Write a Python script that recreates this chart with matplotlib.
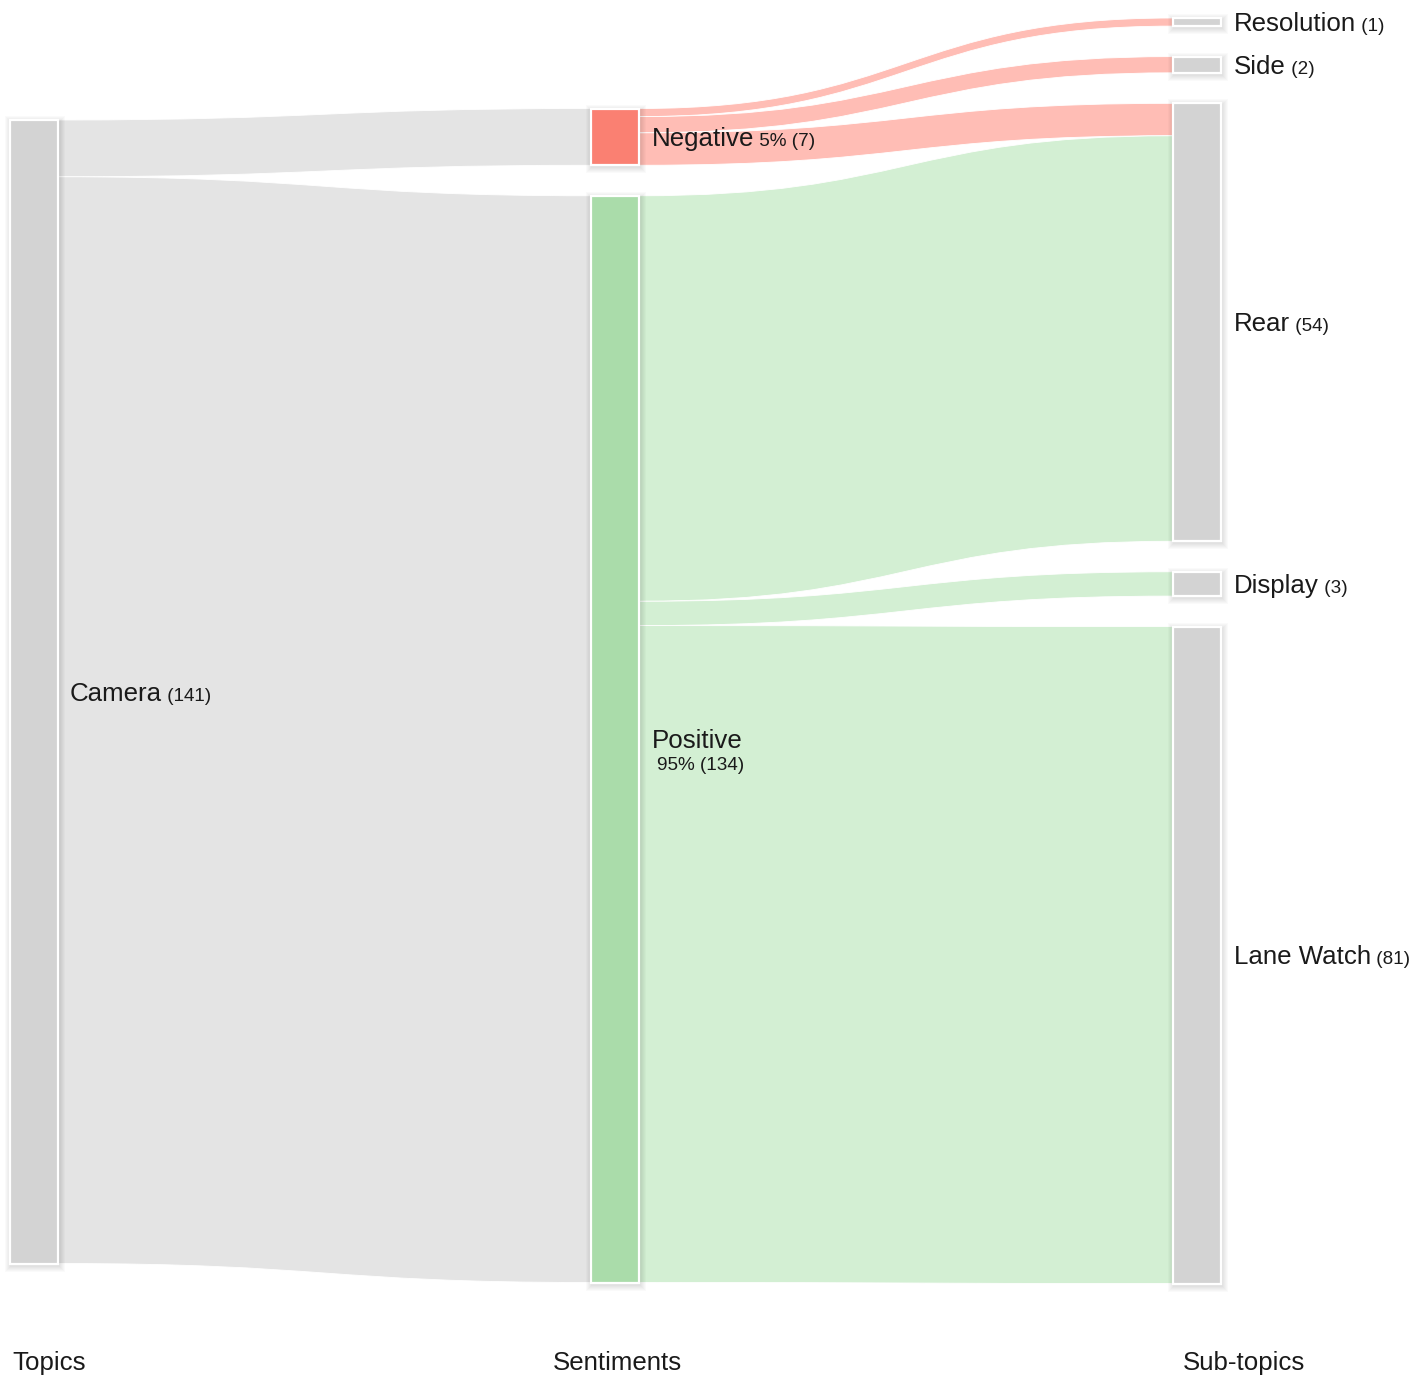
import matplotlib
matplotlib.use("Agg")
import matplotlib.pyplot as plt
from matplotlib.path import Path
from matplotlib.patches import PathPatch, Rectangle

# ---- data -------------------------------------------------------------
topics = ["Camera"]
sentiments = ["Negative", "Positive"]
subtopics = ["Resolution", "Side", "Rear", "Display", "Lane Watch"]
# mentions per sub-topic, split by sentiment (same order as subtopics)
negative_counts = [1, 2, 4, 0, 0]
positive_counts = [0, 0, 50, 3, 81]
column_titles = ["Topics", "Sentiments", "Sub-topics"]

# ---- layout / style ---------------------------------------------------
W, H = 1418, 1377
SCALE = 8.11          # px per mention
PAD = 30.5            # vertical gap between nodes in a column
NODE_W = 48
COL_X = [10, 591, 1173]
COL_TOP = [120, 108.5, 18]

GREY_NODE = "#d3d3d3"
GREY_LINK = "#e4e4e4"
NEG_NODE = "#fa8072"
NEG_LINK = "#ffbdb5"
POS_NODE = "#aadcaa"
POS_LINK = "#d3efd3"
TEXT = "#1a1a1a"
FONT = "Liberation Sans"
BIG = 18.6
SMALL = 13.6

neg_total = sum(negative_counts)
pos_total = sum(positive_counts)
sent_totals = [neg_total, pos_total]
topic_total = neg_total + pos_total
sub_totals = [n + p for n, p in zip(negative_counts, positive_counts)]

fig = plt.figure(figsize=(W / 100, H / 100), dpi=100)
ax = fig.add_axes([0, 0, 1, 1])
ax.set_xlim(0, W)
ax.set_ylim(H, 0)
ax.axis("off")


def stack(values, top):
    """Return (y0, y1) spans for nodes stacked in one column."""
    spans, y = [], top
    for v in values:
        h = v * SCALE
        spans.append((y, y + h))
        y += h + PAD
    return spans


topic_span = stack([topic_total], COL_TOP[0])
sent_span = stack(sent_totals, COL_TOP[1])
sub_span = stack(sub_totals, COL_TOP[2])


def link(x0, s0, s1, x1, t0, t1, color):
    xm = (x0 + x1) / 2
    verts = [(x0, s0), (xm, s0), (xm, t0), (x1, t0),
             (x1, t1), (xm, t1), (xm, s1), (x0, s1), (x0, s0)]
    codes = [Path.MOVETO, Path.CURVE4, Path.CURVE4, Path.CURVE4,
             Path.LINETO, Path.CURVE4, Path.CURVE4, Path.CURVE4,
             Path.CLOSEPOLY]
    ax.add_patch(PathPatch(Path(verts, codes), facecolor=color,
                           edgecolor="white", lw=0.6, zorder=1))


def node(x, y0, y1, color):
    h = y1 - y0
    # soft drop shadow built from stacked translucent rectangles
    for i in range(1, 7):
        ax.add_patch(Rectangle((x + 1 - i, y0 + 2 - i), NODE_W + 2 * i,
                               h + 2 * i, facecolor="black", alpha=0.018,
                               edgecolor="none", zorder=2))
    ax.add_patch(Rectangle((x, y0), NODE_W, h, facecolor=color,
                           edgecolor="white", lw=1.6, zorder=3))


# topic -> sentiment links
src_y = topic_span[0][0]
for (t0, t1), v in zip(sent_span, sent_totals):
    h = v * SCALE
    link(COL_X[0] + NODE_W, src_y, src_y + h, COL_X[1], t0, t1, GREY_LINK)
    src_y += h

# sentiment -> sub-topic links
sub_fill = [s[0] for s in sub_span]
for si, (counts, col) in enumerate([(negative_counts, NEG_LINK),
                                    (positive_counts, POS_LINK)]):
    y = sent_span[si][0]
    for j, v in enumerate(counts):
        if v == 0:
            continue
        h = v * SCALE
        link(COL_X[1] + NODE_W, y, y + h, COL_X[2],
             sub_fill[j], sub_fill[j] + h, col)
        sub_fill[j] += h
        y += h

# nodes
node(COL_X[0], *topic_span[0], GREY_NODE)
node(COL_X[1], *sent_span[0], NEG_NODE)
node(COL_X[1], *sent_span[1], POS_NODE)
for s in sub_span:
    node(COL_X[2], *s, GREY_NODE)

fig.canvas.draw()
renderer = fig.canvas.get_renderer()
inv = ax.transData.inverted()


def label(x, yc, main, extra):
    base = yc + 9
    t = ax.text(x, base, main, fontsize=BIG, family=FONT, color=TEXT,
                ha="left", va="baseline", zorder=5)
    bb = t.get_window_extent(renderer)
    xr = inv.transform((bb.x1, bb.y0))[0]
    ax.text(xr, base, " " + extra, fontsize=SMALL, family=FONT, color=TEXT,
            ha="left", va="baseline", zorder=5)


def mid(span):
    return (span[0] + span[1]) / 2


label(COL_X[0] + NODE_W + 12, mid(topic_span[0]), topics[0],
      f"({topic_total})")

neg_pct = round(100 * neg_total / topic_total)
pos_pct = round(100 * pos_total / topic_total)
label(COL_X[1] + NODE_W + 13, mid(sent_span[0]), sentiments[0],
      f"{neg_pct}% ({neg_total})")

# Positive label: two lines
pc = mid(sent_span[1])
t = ax.text(COL_X[1] + NODE_W + 13, pc + 9, sentiments[1], fontsize=BIG,
            family=FONT, color=TEXT, ha="left", va="baseline", zorder=5)
bb = t.get_window_extent(renderer)
x0d = inv.transform((bb.x0, bb.y0))[0]
x1d = inv.transform((bb.x1, bb.y0))[0]
ax.text((x0d + x1d) / 2 + 3, pc + 31, f"{pos_pct}% ({pos_total})",
        fontsize=SMALL, family=FONT, color=TEXT, ha="center", va="baseline",
        zorder=5)

for name, v, s in zip(subtopics, sub_totals, sub_span):
    label(COL_X[2] + NODE_W + 13, mid(s), name, f"({v})")

# column titles
for x, title in zip([12, 553, 1183], column_titles):
    ax.text(x, 1370, title, fontsize=BIG, family=FONT, color=TEXT,
            ha="left", va="baseline")

fig.savefig("out.png", dpi=100, facecolor="white")
